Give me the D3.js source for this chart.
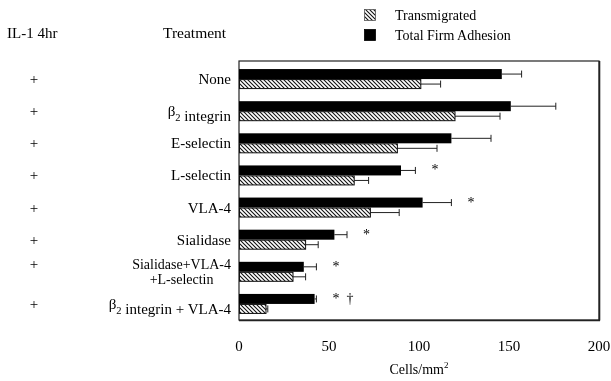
<!DOCTYPE html>
<html>
<head>
<meta charset="utf-8">
<script src="https://cdn.jsdelivr.net/npm/d3@7"></script>
<style>
  html, body { margin: 0; padding: 0; background: #fff; }
  svg { display: block; will-change: transform; }
  svg text { font-family: "Liberation Serif", "DejaVu Serif", "Times New Roman", serif; fill: #000; }
</style>
</head>
<body>
<svg id="chart" width="611" height="381"></svg>
<script>
// Treatments (top to bottom); "\n" splits a label over two lines
const treatments = [
  "None", "β2 integrin", "E-selectin", "L-selectin", "VLA-4",
  "Sialidase", "Sialidase+VLA-4\n+L-selectin", "β2 integrin + VLA-4"
];
const il1 = ["+", "+", "+", "+", "+", "+", "+", "+"];

// Cells/mm², mean and upper error
const firmAdhesion    = [146, 151, 118, 90, 102, 53, 36, 42];
const firmAdhesionErr = [11, 25, 22, 8, 16, 7, 7, 1];
const transmigrated    = [101, 120, 88, 64, 73, 37, 30, 15];
const transmigratedErr = [11, 25, 22, 8, 16, 7, 7, 1];
const significance = ["", "", "", "*", "*", "*", "*", "*  †"];

const xTicks = [0, 50, 100, 150, 200];
const seriesNames = ["Transmigrated", "Total Firm Adhesion"];

const FONT = "'Liberation Serif', 'DejaVu Serif', 'Times New Roman', serif";
const svg = d3.select("#chart").attr("font-family", FONT);

// hatch for the transmigrated bars
const defs = svg.append("defs");
const hatch = defs.append("pattern")
  .attr("id", "hatch").attr("patternUnits", "userSpaceOnUse")
  .attr("width", 4).attr("height", 4);
hatch.append("rect").attr("width", 4).attr("height", 4).attr("fill", "#fff");
hatch.append("path")
  .attr("d", "M0,0 L4,4 M-1,3 L1,5 M3,-1 L5,1")
  .attr("stroke", "#111").attr("stroke-width", 1.1);

const x = d3.scaleLinear().domain([0, 200]).range([239, 599]);
const y = d3.scaleBand().domain(treatments).range([63, 320]);
const barH = 10;

const rows = treatments.map((t, i) => ({
  t, i, fa: firmAdhesion[i], faE: firmAdhesionErr[i],
  tm: transmigrated[i], tmE: transmigratedErr[i], sig: significance[i], il: il1[i]
}));
const cy = d => y(d.t) + y.bandwidth() / 2;

function label(sel) {
  return sel.attr("font-family", FONT).attr("fill", "#000");
}

// frame
svg.append("rect")
  .attr("x", x(0)).attr("y", 61)
  .attr("width", x(200) - x(0)).attr("height", 320 - 61)
  .attr("fill", "none").attr("stroke", "#222").attr("stroke-width", 1.2);
svg.append("line")
  .attr("x1", x(200) + 0.5).attr("x2", x(200) + 0.5)
  .attr("y1", 61).attr("y2", 320.5)
  .attr("stroke", "#222").attr("stroke-width", 1.6);
svg.append("line")
  .attr("x1", x(0)).attr("x2", x(200) + 1)
  .attr("y1", 320.5).attr("y2", 320.5)
  .attr("stroke", "#222").attr("stroke-width", 1.6);

// error bars (drawn first so bars cover their start)
function errBar(g, v, e, yc) {
  g.append("line")
    .attr("x1", x(v)).attr("x2", x(v + e))
    .attr("y1", yc).attr("y2", yc)
    .attr("stroke", "#222").attr("stroke-width", 1);
  g.append("line")
    .attr("x1", x(v + e)).attr("x2", x(v + e))
    .attr("y1", yc - 3.5).attr("y2", yc + 3.5)
    .attr("stroke", "#222").attr("stroke-width", 1);
}
const errG = svg.append("g");
rows.forEach(d => {
  errBar(errG, d.fa, d.faE, cy(d) - barH / 2);
  errBar(errG, d.tm, d.tmE, cy(d) + barH / 2);
});

// bars
const bars = svg.append("g");
bars.selectAll(".fa").data(rows).join("rect")
  .attr("x", x(0)).attr("y", d => cy(d) - barH)
  .attr("width", d => x(d.fa) - x(0)).attr("height", barH)
  .attr("fill", "#000");
bars.selectAll(".tm").data(rows).join("rect")
  .attr("x", x(0) + 0.5).attr("y", d => cy(d) + 0.5)
  .attr("width", d => x(d.tm) - x(0) - 0.5).attr("height", barH - 1)
  .attr("fill", "url(#hatch)").attr("stroke", "#111").attr("stroke-width", 1);

// significance marks
svg.append("g").selectAll("text").data(rows.filter(d => d.sig)).join("text")
  .call(label)
  .attr("x", d => x(d.fa + d.faE) + 16)
  .attr("y", d => cy(d) - 1)
  .attr("font-size", 14)
  .attr("xml:space", "preserve")
  .text(d => d.sig);

// treatment labels
const lab = svg.append("g");
rows.forEach(d => {
  const lines = d.t.split("\n");
  const multi = lines.length > 1;
  const fs = multi ? 14 : 15;
  const gap = 15;
  const y0 = cy(d) + 5 - (lines.length - 1) * gap / 2;
  let firstW = 0;
  lines.forEach((ln, k) => {
    const txt = lab.append("text").call(label)
      .attr("font-size", fs).attr("y", y0 + k * gap);
    const parts = ln.split("β2");
    parts.forEach((p, j) => {
      if (j > 0) {
        txt.append("tspan").text("β");
        txt.append("tspan").attr("font-size", 10.5).attr("dy", 5).text("2");
        txt.append("tspan").attr("dy", -5).text("");
      }
      if (p) txt.append("tspan").text(p);
    });
    if (k === 0) {
      txt.attr("x", 231).attr("text-anchor", "end");
      firstW = txt.node().getComputedTextLength();
    } else {
      txt.attr("x", 231 - firstW / 2).attr("text-anchor", "middle");
    }
  });
  // IL-1 column
  lab.append("text").call(label)
    .attr("font-size", 15)
    .attr("x", 34).attr("y", y0)
    .attr("text-anchor", "middle")
    .text(d.il);
});

// column headers
svg.append("text").call(label).attr("x", 7).attr("y", 38).attr("font-size", 15).text("IL-1 4hr");
svg.append("text").call(label).attr("x", 163).attr("y", 38).attr("font-size", 15.5).text("Treatment");

// x axis labels
svg.append("g").selectAll("text").data(xTicks).join("text")
  .call(label)
  .attr("x", d => x(d)).attr("y", 351)
  .attr("text-anchor", "middle").attr("font-size", 15)
  .text(d => d);
const xt = svg.append("text").call(label).attr("x", x(100)).attr("y", 374)
  .attr("text-anchor", "middle").attr("font-size", 14);
xt.append("tspan").text("Cells/mm");
xt.append("tspan").attr("font-size", 9).attr("dy", -6).text("2");

// legend
const leg = svg.append("g");
seriesNames.forEach((s, i) => {
  leg.append("rect")
    .attr("x", 364.5).attr("y", 9.5 + i * 20)
    .attr("width", 11).attr("height", 11)
    .attr("fill", i === 0 ? "url(#hatch)" : "#000")
    .attr("stroke", i === 0 ? "#555" : "#000").attr("stroke-width", 0.8);
  leg.append("text").call(label)
    .attr("x", 395).attr("y", 20 + i * 20)
    .attr("font-size", 14)
    .text(s);
});
</script>
</body>
</html>
